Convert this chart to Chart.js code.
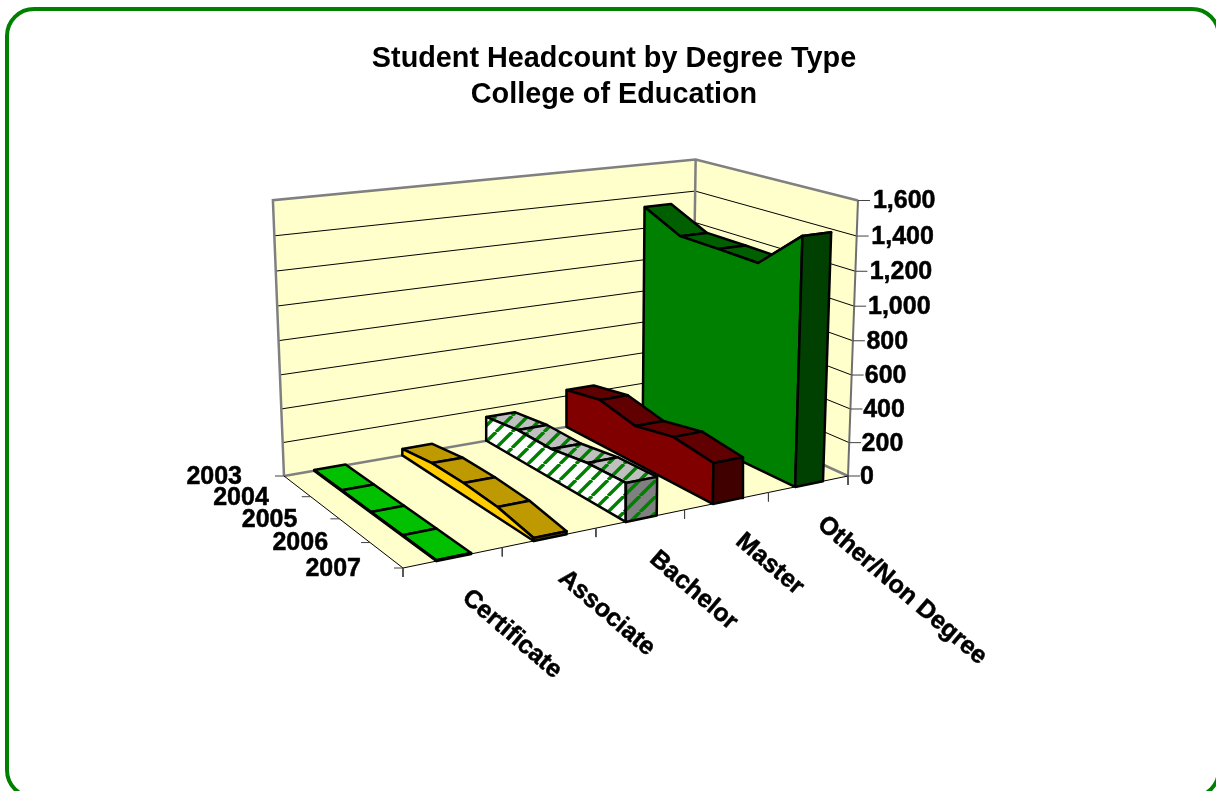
<!DOCTYPE html>
<html>
<head>
<meta charset="utf-8">
<title>Student Headcount by Degree Type</title>
<script src="https://cdn.jsdelivr.net/npm/chart.js@4/dist/chart.umd.min.js"></script>
<style>
  html, body { margin: 0; padding: 0; background: #fff; overflow: hidden; }
  #frame { position: absolute; left: 5px; top: 7px; width: 1216px; height: 792px;
           border: 4.5px solid #008000; border-radius: 29px; box-sizing: border-box; }
  #chart { position: absolute; left: 0; top: 0; }
</style>
</head>
<body>
<div id="frame"></div>
<canvas id="chart" width="1216" height="791"></canvas>
<script>
const categories = ["Certificate", "Associate", "Bachelor", "Master", "Other/Non Degree"];
const years = ["2003", "2004", "2005", "2006", "2007"];
const valueTicks = [0, 200, 400, 600, 800, 1000, 1200, 1400, 1600];

// headcount per year
const certificate = [5, 5, 5, 5, 5];
const associate = [40, 70, 72, 59, 16];
const bachelor = [151, 179, 177, 212, 219];
const master = [238, 279, 226, 272, 236];
const other = [1334, 1222, 1218, 1211, 1439];

const seriesList = [certificate, associate, bachelor, master, other];

// camera: floor corners on screen, vanishing point of the verticals
const view = {
  back: [284, 476], side: [692, 405], front: [848, 476], near: [403, 568],
  vx: 581, vy: 7860, lam: -0.036, maxValue: 1600
};
const bandStart = 0.33, bandEnd = 0.68;

const homography = (() => {
  const [x0, y0] = view.back, [x1, y1] = view.side, [x2, y2] = view.front, [x3, y3] = view.near;
  const dx1 = x1 - x2, dx2 = x3 - x2, sx = x0 - x1 + x2 - x3;
  const dy1 = y1 - y2, dy2 = y3 - y2, sy = y0 - y1 + y2 - y3;
  const den = dx1 * dy2 - dx2 * dy1;
  const g = (sx * dy2 - dx2 * sy) / den;
  const h = (dx1 * sy - sx * dy1) / den;
  return { a: x1 - x0 + g * x1, b: x3 - x0 + h * x3, c: x0,
           d: y1 - y0 + g * y1, e: y3 - y0 + h * y3, f: y0, g, h };
})();

// category position, year position, value -> point for the x/y scales
function project(cat, yr, value) {
  const u = cat / categories.length, n = yr / (years.length - 1);
  const H = homography;
  const t = view.lam * value / view.maxValue;
  const w = H.g * u + H.h * n + 1 + t;
  return {
    x: (H.a * u + H.b * n + H.c + t * view.vx) / w,
    y: (H.d * u + H.e * n + H.f + t * view.vy) / w
  };
}

function hatch(bg, stripe) {
  const size = 16;
  const c = document.createElement("canvas");
  c.width = size; c.height = size;
  const g = c.getContext("2d");
  g.fillStyle = bg;
  g.fillRect(0, 0, size, size);
  g.strokeStyle = stripe;
  g.lineWidth = 3.4;
  for (const k of [-size, 0, size]) {
    g.beginPath();
    g.moveTo(k, size);
    g.lineTo(k + size, 0);
    g.stroke();
  }
  return g.createPattern(c, "repeat");
}

const palette = [
  { side: "#00C000", top: "#00C000", cap: "#009000" },
  { side: "#FFCC00", top: "#BF9900", cap: "#806600" },
  { side: hatch("#FFFFFF", "#008000"), top: hatch("#C0C0C0", "#008000"), cap: hatch("#808080", "#008000") },
  { side: "#800000", top: "#600000", cap: "#400000" },
  { side: "#008000", top: "#006000", cap: "#004000" }
];

const datasets = [];

function addShape(points, fillColor, borderColor, borderWidth) {
  datasets.push({
    data: points.concat(points[0]),
    backgroundColor: fillColor,
    borderColor: borderColor,
    borderWidth: borderWidth,
    borderJoinStyle: "round",
    fill: "shape",
    showLine: true,
    pointRadius: 0,
    tension: 0
  });
}

function addLine(points, color, width) {
  datasets.push({
    data: points,
    borderColor: color,
    borderWidth: width,
    fill: false,
    showLine: true,
    pointRadius: 0,
    tension: 0
  });
}

const nCat = categories.length, lastYear = years.length - 1, maxV = view.maxValue;
const wallColor = "#FFFFCC", frameGray = "#808080", edgeWidth = 2.5;

// walls and floor
addShape([project(0, 0, 0), project(nCat, 0, 0), project(nCat, 0, maxV), project(0, 0, maxV)], wallColor, wallColor, 0);
addShape([project(nCat, 0, 0), project(nCat, lastYear, 0), project(nCat, lastYear, maxV), project(nCat, 0, maxV)], wallColor, wallColor, 0);
addShape([project(0, 0, 0), project(nCat, 0, 0), project(nCat, lastYear, 0), project(0, lastYear, 0)], wallColor, wallColor, 0);

// gridlines
valueTicks.slice(1, -1).forEach(v => {
  addLine([project(0, 0, v), project(nCat, 0, v), project(nCat, lastYear, v)], "#000000", 1);
});

// wall outlines
addLine([project(0, 0, 0), project(0, 0, maxV), project(nCat, 0, maxV), project(nCat, lastYear, maxV)], frameGray, 2.5);
addLine([project(nCat, 0, 0), project(nCat, 0, maxV)], frameGray, 2.5);
addLine([project(0, 0, 0), project(nCat, 0, 0), project(nCat, lastYear, 0)], frameGray, 2.5);

// floor front edges
addLine([project(nCat, lastYear, 0), project(nCat, lastYear, maxV)], "#707070", 2);
addLine([project(0, 0, 0), project(0, lastYear, 0), project(nCat, lastYear, 0)], "#000000", 1);

// ticks
function tickFrom(p, dx, dy) {
  return [p, { x: p.x + dx, y: p.y + dy }];
}
valueTicks.forEach(v => addLine(tickFrom(project(nCat, lastYear, v), 12, 0), "#404040", 1));
years.forEach((y, i) => addLine(tickFrom(project(0, i, 0), -9, 0), "#404040", 1));
for (let i = 0; i <= nCat; i++) addLine(tickFrom(project(i, lastYear, 0), 0, 9), "#404040", 1);

// ribbons, far right one first; the side goes over the tops so a rising end hides its own top
for (let i = nCat - 1; i >= 0; i--) {
  const vals = seriesList[i], c0 = i + bandStart, c1 = i + bandEnd, col = palette[i];
  const edge = vals.map((v, k) => project(c0, k, v));
  for (let k = 0; k < lastYear; k++) {
    addShape([project(c0, k, vals[k]), project(c1, k, vals[k]), project(c1, k + 1, vals[k + 1]), project(c0, k + 1, vals[k + 1])],
      col.top, "#000000", edgeWidth);
  }
  addShape([project(c0, 0, 0), ...edge, project(c0, lastYear, 0)], col.side, "#000000", edgeWidth);
  addShape([project(c0, lastYear, 0), project(c1, lastYear, 0), project(c1, lastYear, vals[lastYear]), project(c0, lastYear, vals[lastYear])],
    col.cap, "#000000", edgeWidth);
}

const axisFont = "bold 25px 'Liberation Sans', Arial, sans-serif";

const axisLabels = {
  id: "axisLabels",
  afterDraw(chart) {
    const { ctx, scales } = chart;
    const put = (text, p, dx, dy, align, angle) => {
      ctx.save();
      ctx.translate(scales.x.getPixelForValue(p.x) + dx, scales.y.getPixelForValue(p.y) + dy);
      if (angle) ctx.rotate(angle);
      ctx.textAlign = align;
      ctx.textBaseline = "middle";
      ctx.font = axisFont;
      ctx.fillStyle = "#000";
      ctx.strokeStyle = "#000";
      ctx.lineWidth = 0.5;
      ctx.fillText(text, 0, 0);
      ctx.strokeText(text, 0, 0);
      ctx.restore();
    };
    valueTicks.forEach(v => {
      put(v.toLocaleString("en-US"), project(nCat, lastYear, v), 12 + 3 * v / maxV, 1, "left");
    });
    years.forEach((y, i) => put(y, project(0, i, 0), -42, 1, "right"));
    categories.forEach((c, i) => {
      put(c, project(i + 0.5, lastYear, 0), 12, 37, "left", 40.5 * Math.PI / 180);
    });
  }
};

new Chart(document.getElementById("chart"), {
  type: "scatter",
  data: { datasets: datasets.slice().reverse() },
  plugins: [axisLabels],
  options: {
    responsive: false,
    animation: false,
    devicePixelRatio: 1,
    events: [],
    layout: { padding: { left: 12, top: 0, right: 0, bottom: 0 } },
    clip: false,
    scales: {
      x: { type: "linear", display: false, min: 12, max: 1216 },
      y: { type: "linear", display: false, min: 120, max: 791, reverse: true }
    },
    plugins: {
      legend: { display: false },
      tooltip: { enabled: false },
      title: {
        display: true,
        text: ["Student Headcount by Degree Type", "College of Education"],
        color: "#000",
        font: { family: "'Liberation Sans', Arial, sans-serif", size: 28.8, weight: "bold", lineHeight: "36px" },
        padding: { top: 41, bottom: 7 }
      }
    }
  }
});
</script>
</body>
</html>
